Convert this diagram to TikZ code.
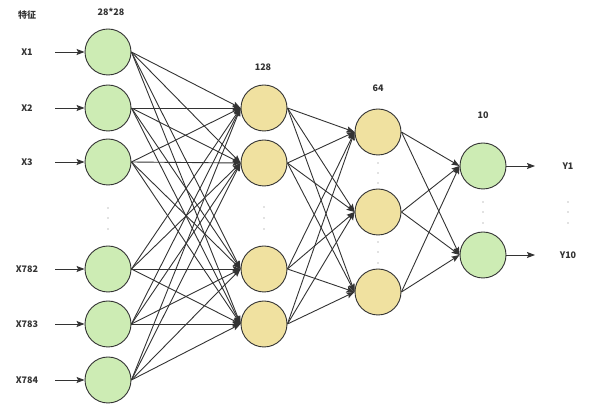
\documentclass[tikz,border=0pt]{standalone}
\usepackage{fontspec}
\setmainfont{Noto Sans CJK SC}
\usetikzlibrary{arrows.meta}
\definecolor{ngreen}{RGB}{205,236,180}
\definecolor{nyellow}{RGB}{240,225,160}
\definecolor{nline}{RGB}{51,51,51}
\begin{document}
\begin{tikzpicture}[x=1pt,y=-1pt,
  neuron/.style={circle,minimum size=46pt,inner sep=0pt,draw=nline,line width=0.9pt},
  gnode/.style={neuron,fill=ngreen},
  ynode/.style={neuron,fill=nyellow},
  lbl/.style={font=\bfseries\fontsize{9}{11}\selectfont,text=nline,inner sep=0pt},
  conn/.style={draw=nline,line width=0.9pt,-{Stealth[length=8pt,width=6pt,inset=1.5pt]}},
  dotmark/.style={circle,fill=gray,inner sep=0pt,minimum size=1.4pt}]
\useasboundingbox (0,0) rectangle (590,411);
% layer 1
\node[gnode] (a1) at (108,52) {};
\node[gnode] (a2) at (108,108) {};
\node[gnode] (a3) at (108,162) {};
\node[gnode] (a4) at (108,269) {};
\node[gnode] (a5) at (108,324) {};
\node[gnode] (a6) at (108,380) {};
% layer 2
\node[ynode] (b1) at (264,108) {};
\node[ynode] (b2) at (264,163) {};
\node[ynode] (b3) at (264,269) {};
\node[ynode] (b4) at (264,324) {};
% layer 3
\node[ynode] (c1) at (378,132) {};
\node[ynode] (c2) at (378,212) {};
\node[ynode] (c3) at (378,292) {};
% layer 4
\node[gnode] (d1) at (483,166) {};
\node[gnode] (d2) at (483,255) {};
% headers
\node[lbl] (h0) at (27,15) {特征};
\node[lbl] (h1) at (111,12) {28*28};
\node[lbl] (h2) at (263,67) {128};
\node[lbl] (h3) at (378,88) {64};
\node[lbl] (h4) at (483,115) {10};
% input labels and arrows
\foreach \n/\t/\y in {a1/X1/52,a2/X2/108,a3/X3/162,a4/X782/269,a5/X783/324,a6/X784/380}{
  \node[lbl] (t\n) at (27,\y) {\t};
  \coordinate (s\n) at (55,\y);
  \draw[conn] (s\n) -- (\n.west);
}
% output labels and arrows
\coordinate (o1) at (535,166);
\coordinate (o2) at (535,255);
\draw[conn] (d1.east) -- (o1);
\draw[conn] (d2.east) -- (o2);
\node[lbl] (y1) at (568,166) {Y1};
\node[lbl] (y2) at (568,255) {Y10};
% connections
\foreach \s in {a1,a2,a3,a4,a5,a6}{
  \foreach \t in {b1,b2,b3,b4}{
    \draw[conn] (\s.east) -- (\t.west);
  }
}
\foreach \s in {b1,b2,b3,b4}{
  \foreach \t in {c1,c2,c3}{
    \draw[conn] (\s.east) -- (\t.west);
  }
}
\foreach \s in {c1,c2,c3}{
  \foreach \t in {d1,d2}{
    \draw[conn] (\s.east) -- (\t.west);
  }
}
% ellipsis dots
\foreach \x/\y in {108/208,108/218,108/229,
                   264/207,264/218,264/229,
                   378/163,378/173,378/183,
                   378/242,378/252,378/263,
                   483/202,483/212,483/223,
                   568/202,568/212,568/223}{
  \node[dotmark] at (\x,\y) {};
}
\end{tikzpicture}
\end{document}
